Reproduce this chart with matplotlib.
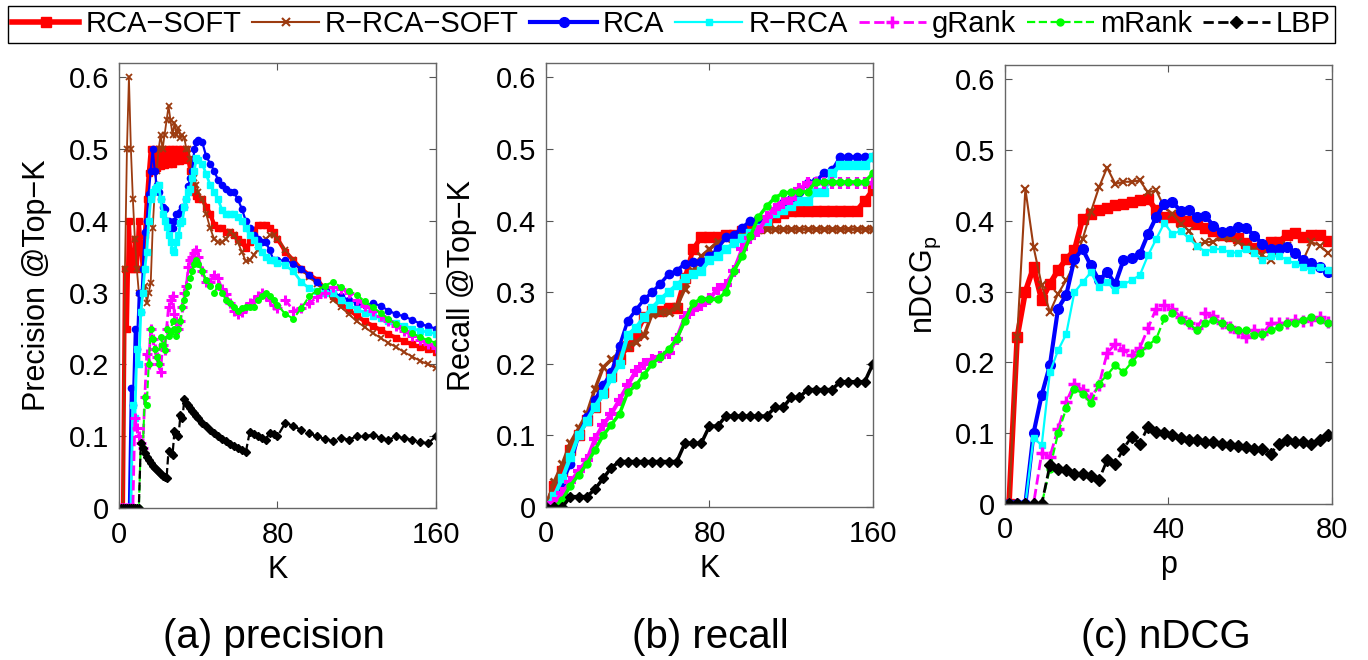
import matplotlib
matplotlib.use("Agg")
import matplotlib.pyplot as plt

plt.rcParams['font.family'] = ['Liberation Sans', 'DejaVu Sans']
plt.rcParams['mathtext.fontset'] = 'custom'
plt.rcParams['mathtext.rm'] = 'Liberation Sans'

# ---------------- data ----------------
labels = ["RCA\u2212SOFT", "R\u2212RCA\u2212SOFT", "RCA", "R\u2212RCA", "gRank", "mRank", "LBP"]

# (a) precision @Top-K
K_a = list(range(1, 41)) + list(range(42, 81, 2)) + list(range(84, 161, 4))
prec_rca_soft = [0, 0, 0.333, 0.25, 0.40, 0.333, 0.333, 0.375, 0.333, 0.40,
                 0.364, 0.333, 0.38, 0.43, 0.467, 0.50, 0.47, 0.50, 0.474, 0.50,
                 0.476, 0.50, 0.478, 0.50, 0.48, 0.50, 0.48, 0.50, 0.483, 0.50,
                 0.484, 0.50, 0.485, 0.50, 0.486, 0.47, 0.45, 0.44, 0.435, 0.43,
                 0.43, 0.42, 0.41, 0.395, 0.39, 0.39, 0.385, 0.385, 0.38, 0.375,
                 0.37, 0.362, 0.37, 0.385, 0.394, 0.394, 0.394, 0.39, 0.385, 0.375,
                 0.357, 0.345, 0.333, 0.325, 0.318, 0.305, 0.295, 0.285, 0.276, 0.268,
                 0.26, 0.254, 0.248, 0.242, 0.237, 0.232, 0.228, 0.224, 0.221, 0.218]
prec_r_rca_soft = [0, 0, 0.333, 0.5, 0.6, 0.5, 0.43, 0.375, 0.333, 0.30,
                   0.273, 0.30, 0.31, 0.286, 0.30, 0.313, 0.39, 0.44, 0.47, 0.50,
                   0.52, 0.50, 0.52, 0.54, 0.56, 0.54, 0.52, 0.536, 0.52, 0.53,
                   0.516, 0.52, 0.515, 0.50, 0.50, 0.486, 0.47, 0.46, 0.45, 0.44,
                   0.43, 0.41, 0.39, 0.375, 0.37, 0.37, 0.375, 0.385, 0.38, 0.37,
                   0.357, 0.344, 0.345, 0.353, 0.36, 0.37, 0.375, 0.38, 0.38, 0.375,
                   0.36, 0.345, 0.332, 0.322, 0.312, 0.302, 0.29, 0.28, 0.27, 0.26,
                   0.252, 0.244, 0.237, 0.23, 0.224, 0.217, 0.211, 0.205, 0.2, 0.195]
prec_rca = [0, 0, 0, 0, 0, 0.167, 0.143, 0.25, 0.222, 0.30,
            0.273, 0.333, 0.385, 0.40, 0.438, 0.47, 0.50, 0.47, 0.45, 0.44,
            0.43, 0.42, 0.417, 0.40, 0.40, 0.39, 0.39, 0.40, 0.41, 0.41,
            0.413, 0.42, 0.42, 0.43, 0.448, 0.46, 0.47, 0.50, 0.51, 0.513,
            0.51, 0.49, 0.48, 0.47, 0.457, 0.45, 0.445, 0.44, 0.44, 0.43,
            0.417, 0.40, 0.39, 0.38, 0.375, 0.37, 0.37, 0.36, 0.345, 0.345,
            0.345, 0.34, 0.333, 0.325, 0.315, 0.307, 0.30, 0.295, 0.29, 0.286,
            0.283, 0.285, 0.282, 0.275, 0.27, 0.267, 0.262, 0.257, 0.253, 0.25]
prec_r_rca = [0, 0, 0, 0, 0, 0, 0.143, 0.125, 0.222, 0.20,
              0.273, 0.30, 0.333, 0.357, 0.40, 0.43, 0.44, 0.444, 0.447, 0.45,
              0.43, 0.41, 0.40, 0.392, 0.38, 0.371, 0.36, 0.357, 0.37, 0.38,
              0.397, 0.40, 0.42, 0.43, 0.44, 0.445, 0.46, 0.47, 0.487, 0.485,
              0.48, 0.465, 0.45, 0.44, 0.43, 0.415, 0.41, 0.41, 0.41, 0.405,
              0.40, 0.39, 0.38, 0.373, 0.365, 0.357, 0.35, 0.345, 0.345, 0.342,
              0.338, 0.33, 0.315, 0.306, 0.302, 0.30, 0.30, 0.29, 0.283, 0.277,
              0.272, 0.268, 0.265, 0.261, 0.258, 0.254, 0.25, 0.247, 0.245, 0.243]
prec_grank = [0, 0, 0, 0, 0, 0, 0, 0.125, 0.111, 0.10,
              0.091, 0.083, 0.154, 0.214, 0.20, 0.25, 0.235, 0.222, 0.21, 0.20,
              0.19, 0.227, 0.22, 0.25, 0.28, 0.29, 0.296, 0.27, 0.26, 0.25,
              0.26, 0.28, 0.30, 0.31, 0.336, 0.345, 0.35, 0.355, 0.36, 0.35,
              0.33, 0.315, 0.315, 0.325, 0.32, 0.305, 0.298, 0.285, 0.275, 0.27,
              0.273, 0.28, 0.285, 0.29, 0.295, 0.30, 0.295, 0.29, 0.283, 0.278,
              0.29, 0.275, 0.278, 0.285, 0.294, 0.30, 0.308, 0.305, 0.30, 0.29,
              0.282, 0.275, 0.268, 0.26, 0.253, 0.246, 0.24, 0.234, 0.228, 0.223]
prec_mrank = [0, 0, 0, 0, 0, 0, 0, 0, 0, 0,
              0.091, 0.083, 0.154, 0.143, 0.20, 0.25, 0.235, 0.222, 0.21, 0.20,
              0.238, 0.227, 0.22, 0.25, 0.24, 0.245, 0.26, 0.25, 0.24, 0.25,
              0.26, 0.28, 0.29, 0.30, 0.31, 0.32, 0.33, 0.34, 0.345, 0.34,
              0.33, 0.318, 0.31, 0.30, 0.31, 0.30, 0.29, 0.285, 0.28, 0.275,
              0.278, 0.28, 0.28, 0.28, 0.29, 0.295, 0.30, 0.295, 0.29, 0.283,
              0.27, 0.264, 0.278, 0.295, 0.303, 0.31, 0.315, 0.308, 0.303, 0.297,
              0.288, 0.28, 0.272, 0.263, 0.256, 0.25, 0.244, 0.238, 0.234, 0.23]
prec_lbp = [0, 0, 0, 0, 0, 0, 0, 0, 0, 0,
            0.091, 0.083, 0.077, 0.071, 0.067, 0.0625, 0.059, 0.056, 0.053, 0.05,
            0.048, 0.045, 0.043, 0.042, 0.08, 0.077, 0.074, 0.107, 0.103, 0.10,
            0.129, 0.125, 0.152, 0.147, 0.143, 0.139, 0.135, 0.132, 0.128, 0.125,
            0.119, 0.114, 0.109, 0.104, 0.10, 0.096, 0.093, 0.089, 0.086, 0.083,
            0.081, 0.078, 0.106, 0.103, 0.10, 0.097, 0.095, 0.105, 0.103, 0.10,
            0.119, 0.114, 0.109, 0.104, 0.10, 0.096, 0.093, 0.098, 0.095, 0.10,
            0.10, 0.102, 0.098, 0.095, 0.10, 0.097, 0.095, 0.092, 0.09, 0.10]

# (b) recall @Top-K
K_b = list(range(0, 161, 4))
rec_rca_soft = [0, 0.03, 0.05, 0.08, 0.10, 0.122, 0.14, 0.16, 0.183, 0.206,
                0.225, 0.24, 0.265, 0.274, 0.274, 0.278, 0.278, 0.32, 0.36, 0.377,
                0.377, 0.377, 0.38, 0.38, 0.385, 0.388, 0.39, 0.40, 0.405, 0.41,
                0.414, 0.414, 0.414, 0.414, 0.414, 0.414, 0.414, 0.414, 0.414, 0.428, 0.443]
rec_r_rca_soft = [0, 0.035, 0.06, 0.09, 0.11, 0.13, 0.165, 0.195, 0.206, 0.215,
                  0.225, 0.23, 0.24, 0.27, 0.272, 0.272, 0.28, 0.305, 0.33, 0.35,
                  0.36, 0.37, 0.375, 0.377, 0.38, 0.383, 0.388, 0.388, 0.388, 0.388,
                  0.388, 0.388, 0.388, 0.388, 0.388, 0.388, 0.388, 0.388, 0.388, 0.388, 0.388]
rec_rca = [0, 0.01, 0.035, 0.06, 0.10, 0.125, 0.15, 0.17, 0.188, 0.225,
           0.26, 0.275, 0.29, 0.30, 0.312, 0.325, 0.33, 0.34, 0.342, 0.342,
           0.35, 0.36, 0.377, 0.38, 0.39, 0.40, 0.402, 0.402, 0.41, 0.425,
           0.43, 0.44, 0.452, 0.455, 0.466, 0.47, 0.489, 0.489, 0.489, 0.489, 0.489]
rec_r_rca = [0, 0.015, 0.04, 0.07, 0.10, 0.12, 0.14, 0.158, 0.18, 0.20,
             0.24, 0.25, 0.265, 0.278, 0.29, 0.30, 0.31, 0.32, 0.325, 0.33,
             0.345, 0.35, 0.36, 0.368, 0.375, 0.382, 0.39, 0.40, 0.41, 0.415,
             0.42, 0.427, 0.427, 0.44, 0.44, 0.466, 0.477, 0.477, 0.477, 0.477, 0.489]
rec_grank = [0, 0.005, 0.02, 0.035, 0.05, 0.065, 0.095, 0.115, 0.13, 0.15,
             0.17, 0.19, 0.20, 0.205, 0.21, 0.215, 0.235, 0.265, 0.275, 0.282,
             0.29, 0.305, 0.31, 0.33, 0.36, 0.375, 0.385, 0.405, 0.416, 0.425,
             0.43, 0.444, 0.452, 0.452, 0.452, 0.452, 0.452, 0.452, 0.452, 0.452, 0.452]
rec_mrank = [0, 0, 0.01, 0.03, 0.045, 0.06, 0.08, 0.10, 0.115, 0.13,
             0.16, 0.17, 0.185, 0.20, 0.21, 0.22, 0.235, 0.26, 0.285, 0.29,
             0.29, 0.29, 0.30, 0.33, 0.35, 0.378, 0.405, 0.42, 0.432, 0.438,
             0.44, 0.44, 0.44, 0.454, 0.454, 0.454, 0.454, 0.454, 0.454, 0.454, 0.466]
rec_lbp = [0, 0, 0, 0.0145, 0.0145, 0.0145, 0.025, 0.04, 0.055, 0.0635,
           0.0635, 0.0635, 0.0635, 0.0635, 0.0635, 0.0635, 0.0635, 0.089, 0.089, 0.089,
           0.113, 0.113, 0.127, 0.127, 0.127, 0.127, 0.127, 0.127, 0.139, 0.139,
           0.153, 0.153, 0.164, 0.164, 0.164, 0.164, 0.175, 0.175, 0.175, 0.175, 0.20]

# (c) nDCG_p
p_c = list(range(1, 80, 2))
ndcg_rca_soft = [0, 0.236, 0.30, 0.334, 0.288, 0.311, 0.33, 0.346, 0.358, 0.403,
                 0.41, 0.415, 0.418, 0.422, 0.424, 0.426, 0.429, 0.431, 0.415, 0.405,
                 0.405, 0.40, 0.40, 0.395, 0.39, 0.385, 0.38, 0.378, 0.375, 0.368,
                 0.362, 0.363, 0.37, 0.37, 0.38, 0.382, 0.377, 0.38, 0.38, 0.372]
ndcg_r_rca_soft = [0, 0.236, 0.445, 0.363, 0.309, 0.271, 0.297, 0.316, 0.339, 0.374,
                   0.412, 0.447, 0.475, 0.452, 0.455, 0.455, 0.457, 0.44, 0.443, 0.419,
                   0.41, 0.396, 0.386, 0.365, 0.37, 0.37, 0.377, 0.375, 0.37, 0.363,
                   0.358, 0.351, 0.344, 0.36, 0.365, 0.355, 0.345, 0.37, 0.365, 0.355]
ndcg_rca = [0, 0, 0, 0.10, 0.154, 0.196, 0.276, 0.295, 0.346, 0.36,
            0.337, 0.316, 0.327, 0.311, 0.344, 0.348, 0.353, 0.381, 0.405, 0.424,
            0.426, 0.414, 0.415, 0.405, 0.407, 0.393, 0.384, 0.385, 0.391, 0.39,
            0.379, 0.367, 0.36, 0.36, 0.363, 0.355, 0.344, 0.34, 0.335, 0.328]
ndcg_r_rca = [0, 0, 0, 0.093, 0.083, 0.186, 0.217, 0.24, 0.299, 0.313,
              0.327, 0.306, 0.313, 0.302, 0.31, 0.316, 0.323, 0.351, 0.374, 0.397,
              0.381, 0.386, 0.375, 0.365, 0.356, 0.36, 0.36, 0.355, 0.355, 0.36,
              0.355, 0.344, 0.35, 0.35, 0.345, 0.339, 0.335, 0.33, 0.335, 0.33]
ndcg_grank = [0, 0, 0, 0, 0.072, 0.067, 0.106, 0.144, 0.17, 0.161,
              0.149, 0.168, 0.213, 0.226, 0.217, 0.21, 0.22, 0.248, 0.276, 0.281,
              0.276, 0.264, 0.255, 0.248, 0.269, 0.265, 0.255, 0.25, 0.243, 0.236,
              0.245, 0.24, 0.255, 0.255, 0.255, 0.26, 0.259, 0.26, 0.264, 0.257]
ndcg_mrank = [0, 0, 0, 0, 0, 0.05, 0.10, 0.135, 0.163, 0.156,
              0.142, 0.17, 0.182, 0.196, 0.186, 0.20, 0.213, 0.224, 0.233, 0.262,
              0.269, 0.26, 0.255, 0.245, 0.255, 0.26, 0.255, 0.25, 0.245, 0.245,
              0.238, 0.24, 0.245, 0.25, 0.255, 0.255, 0.26, 0.264, 0.26, 0.255]
ndcg_lbp = [0, 0, 0, 0, 0, 0.055, 0.05, 0.048, 0.043, 0.042,
            0.04, 0.034, 0.062, 0.057, 0.078, 0.095, 0.085, 0.109, 0.102, 0.10,
            0.097, 0.093, 0.091, 0.09, 0.088, 0.087, 0.085, 0.083, 0.082, 0.08,
            0.078, 0.077, 0.071, 0.085, 0.09, 0.088, 0.087, 0.085, 0.09, 0.097]

# ---------------- styles ----------------
BROWN = '#9c3b10'
style_a = [
    dict(color='#ff0000', lw=3.0, marker='s', ms=4.5, ls='-'),
    dict(color=BROWN, lw=1.3, marker='x', ms=5, mew=1.3, ls='-'),
    dict(color='#0000ff', lw=1.6, marker='o', ms=4.5, ls='-'),
    dict(color='#00ffff', lw=2.0, marker='s', ms=4.5, ls='-'),
    dict(color='#ff00ff', lw=2.0, marker='+', ms=7, mew=2.2, ls='--'),
    dict(color='#00ff00', lw=1.5, marker='.', ms=8, ls='--'),
    dict(color='black', lw=1.6, marker='D', ms=4, ls='--'),
]
# recall curves look like dense step bands in the original
style_b = [
    dict(color='#ff0000', lw=3.5, marker='s', ms=6.5, ls='-'),
    dict(color=BROWN, lw=2.5, marker='x', ms=6, mew=2, ls='-'),
    dict(color='#0000ff', lw=2.5, marker='o', ms=6, ls='-'),
    dict(color='#00ffff', lw=3.0, marker='s', ms=6, ls='-'),
    dict(color='#ff00ff', lw=3.0, marker='+', ms=8, mew=3, ls='-'),
    dict(color='#00ff00', lw=2.5, marker='.', ms=10, ls='-'),
    dict(color='black', lw=2.5, marker='D', ms=5.5, ls='-'),
]
style_c = [
    dict(color='#ff0000', lw=4.0, marker='s', ms=7, ls='-'),
    dict(color=BROWN, lw=1.5, marker='x', ms=6, mew=1.5, ls='-'),
    dict(color='#0000ff', lw=3.0, marker='o', ms=7, ls='-'),
    dict(color='#00ffff', lw=1.6, marker='s', ms=5, ls='-'),
    dict(color='#ff00ff', lw=2.0, marker='+', ms=9, mew=2.5, ls='--'),
    dict(color='#00ff00', lw=1.6, marker='.', ms=10, ls='--'),
    dict(color='black', lw=2.0, marker='D', ms=6, ls='--'),
]

TICK_FS = 21
LABEL_FS = 22


def draw_panel(ax, x, series, styles, xmax, xticks, xlabel, ylabel, ylabel_x):
    lines = []
    for y, st in zip(series, styles):
        ln, = ax.plot(x, y, **st)
        lines.append(ln)
    ax.set_xlim(0, xmax)
    ax.set_ylim(0, 0.62)
    ax.set_xticks(xticks)
    ax.set_yticks([0, 0.1, 0.2, 0.3, 0.4, 0.5, 0.6])
    ax.set_yticklabels(['0', '0.1', '0.2', '0.3', '0.4', '0.5', '0.6'])
    ax.tick_params(direction='in', top=True, right=True, length=5,
                   labelsize=TICK_FS, width=0.8, color='#555555')
    ax.tick_params(axis='x', pad=9)
    ax.tick_params(axis='y', pad=7)
    for sp in ax.spines.values():
        sp.set_color('#666666')
        sp.set_linewidth(1.0)
    ax.set_xlabel(xlabel, fontsize=LABEL_FS)
    ax.xaxis.set_label_coords(0.5, -0.105)
    ax.set_ylabel(ylabel, fontsize=LABEL_FS)
    ax.yaxis.set_label_coords(ylabel_x, 0.5)
    return lines


fig = plt.figure(figsize=(13.68, 6.6), dpi=100)
ax_a = fig.add_axes([0.087, 0.2303, 0.2317, 0.6742])
ax_b = fig.add_axes([0.3991, 0.2318, 0.2390, 0.6727])
ax_c = fig.add_axes([0.7346, 0.2364, 0.2390, 0.6652])

draw_panel(ax_a, K_a,
           [prec_rca_soft, prec_r_rca_soft, prec_rca, prec_r_rca, prec_grank, prec_mrank, prec_lbp],
           style_a, 160, [0, 80, 160], 'K', 'Precision @Top\u2212K', -0.21)
draw_panel(ax_b, K_b,
           [rec_rca_soft, rec_r_rca_soft, rec_rca, rec_r_rca, rec_grank, rec_mrank, rec_lbp],
           style_b, 160, [0, 80, 160], 'K', 'Recall @Top\u2212K', -0.21)
handles = draw_panel(ax_c, p_c,
                     [ndcg_rca_soft, ndcg_r_rca_soft, ndcg_rca, ndcg_r_rca, ndcg_grank, ndcg_mrank, ndcg_lbp],
                     style_c, 80, [0, 40, 80], 'p', r'nDCG$_\mathregular{p}$', -0.19)

fig.text(0.200, 0.035, '(a) precision', fontsize=29, ha='center', va='center')
fig.text(0.519, 0.035, '(b) recall', fontsize=29, ha='center', va='center')
fig.text(0.852, 0.035, '(c) nDCG', fontsize=29, ha='center', va='center')

leg = fig.legend(handles, labels, loc='center', bbox_to_anchor=(0.0058, 0.932, 0.970, 0.062),
                 mode='expand', ncol=7, fancybox=False, edgecolor='black', framealpha=1,
                 handlelength=2.3, handletextpad=0.2, columnspacing=0.4,
                 borderaxespad=0, borderpad=0.15, fontsize=21)
leg.get_frame().set_linewidth(1.0)

fig.savefig('out.png', dpi=100)
